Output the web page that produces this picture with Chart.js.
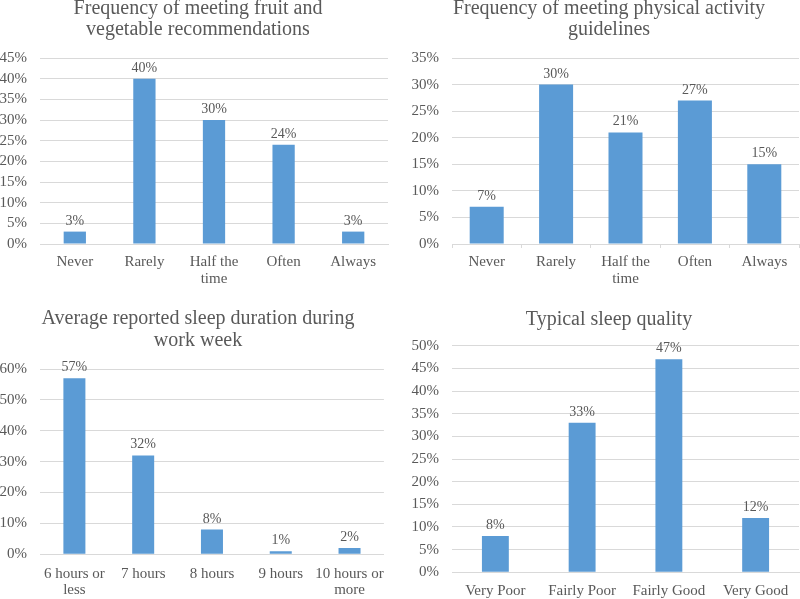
<!DOCTYPE html>
<html lang="en">
<head>
<meta charset="UTF-8">
<title>Survey results</title>
<style>
    html, body { margin: 0; padding: 0; background: #fff; }
    body { width: 800px; height: 599px; overflow: hidden; position: relative; }
    canvas { position: absolute; }
    #fruitChart { left: 0; top: 0; }
    #activityChart { left: 400px; top: 0; }
    #durationChart { left: 0; top: 300px; }
    #qualityChart { left: 400px; top: 300px; }
</style>
</head>
<body>
<canvas id="fruitChart" width="396" height="300"></canvas>
<canvas id="activityChart" width="418" height="300"></canvas>
<canvas id="durationChart" width="396" height="299"></canvas>
<canvas id="qualityChart" width="418" height="299"></canvas>

<script src="https://cdn.jsdelivr.net/npm/chart.js"></script>
<script>
    // data
    var frequencyLabels = ["Never", "Rarely", ["Half the", "time"], "Often", "Always"];
    var fruitValues = [3, 40, 30, 24, 3];
    var activityValues = [7, 30, 21, 27, 15];

    var durationLabels = [["6 hours or", "less"], "7 hours", "8 hours", "9 hours", ["10 hours or", "more"]];
    var durationValues = [57, 32, 8, 1, 2];

    var qualityLabels = ["Very Poor", "Fairly Poor", "Fairly Good", "Very Good"];
    var qualityValues = [8, 33, 47, 12];

    var fontFamily = "'Liberation Serif', 'Times New Roman', serif";
    var textColor = "#595959";
    var gridColor = "#d9d9d9";
    var barColor = "#5b9bd5";

    // percentage above each bar
    var barValueLabels = {
        id: "barValueLabels",
        afterDatasetsDraw: function (chart) {
            var ctx = chart.ctx;
            var meta = chart.getDatasetMeta(0);
            var data = chart.data.datasets[0].data;
            ctx.save();
            ctx.font = "14px " + fontFamily;
            ctx.fillStyle = textColor;
            ctx.textAlign = "center";
            ctx.textBaseline = "alphabetic";
            meta.data.forEach(function (bar, i) {
                ctx.fillText(data[i] + "%", bar.x, bar.y - 7);
            });
            ctx.restore();
        }
    };

    function createBarChart(id, c) {
        var ctx = document.getElementById(id).getContext("2d");
        return new Chart(ctx, {
            type: "bar",
            data: {
                labels: c.labels,
                datasets: [{
                    data: c.values,
                    backgroundColor: barColor,
                    borderWidth: 0,
                    barPercentage: c.barPct,
                    categoryPercentage: 1
                }]
            },
            options: {
                responsive: false,
                animation: false,
                devicePixelRatio: 1,
                layout: { padding: 0 },
                plugins: {
                    legend: { display: false },
                    tooltip: { enabled: false },
                    title: {
                        display: true,
                        text: c.title,
                        color: textColor,
                        font: { family: fontFamily, size: 20, weight: "normal", lineHeight: c.titleLine },
                        padding: { top: c.titleTop, bottom: c.titleBottom }
                    }
                },
                scales: {
                    x: {
                        grid: {
                            display: c.showTicks,
                            drawOnChartArea: false,
                            drawTicks: c.showTicks,
                            tickLength: 4,
                            color: gridColor
                        },
                        border: { display: true, color: gridColor },
                        ticks: {
                            color: textColor,
                            padding: c.labelPad,
                            maxRotation: 0,
                            autoSkip: false,
                            font: { family: fontFamily, size: 15, lineHeight: 1.1 }
                        },
                        afterFit: function (scale) { scale.height = c.axisHeight; }
                    },
                    y: {
                        min: 0,
                        max: c.max,
                        grid: { color: gridColor, drawTicks: false },
                        border: { display: false },
                        ticks: {
                            stepSize: c.step,
                            autoSkip: false,
                            padding: 13,
                            color: textColor,
                            font: { family: fontFamily, size: 15, lineHeight: 1 },
                            callback: function (v) { return v + "%"; }
                        },
                        afterFit: function (scale) { scale.width = c.axisWidth; }
                    },
                    // empty right-hand box: keeps the plot short of the edge
                    // while the title stays centred on the whole canvas
                    spacer: {
                        type: "linear",
                        position: "right",
                        grid: { display: false },
                        border: { display: false },
                        ticks: { display: false },
                        afterFit: function (scale) { scale.width = c.rightGap; }
                    }
                }
            },
            plugins: [barValueLabels]
        });
    }

    createBarChart("fruitChart", {
        title: ["Frequency of meeting fruit and", "vegetable recommendations"],
        titleLine: 1.05, titleTop: -1.5, titleBottom: 17.5,
        labels: frequencyLabels, values: fruitValues,
        max: 45, step: 5, barPct: 0.32,
        axisWidth: 40, axisHeight: 56, rightGap: 8, labelPad: 10, showTicks: false
    });

    createBarChart("activityChart", {
        title: ["Frequency of meeting physical activity", "guidelines"],
        titleLine: 1.05, titleTop: -1.5, titleBottom: 17.5,
        labels: frequencyLabels, values: activityValues,
        max: 35, step: 5, barPct: 0.49,
        axisWidth: 52, axisHeight: 56, rightGap: 19, labelPad: 6, showTicks: true
    });

    createBarChart("durationChart", {
        title: ["Average reported sleep duration during", "work week"],
        titleLine: 1.1, titleTop: 7.5, titleBottom: 17.5,
        labels: durationLabels, values: durationValues,
        max: 60, step: 10, barPct: 0.32,
        axisWidth: 40, axisHeight: 44.7, rightGap: 8, labelPad: 11.5, showTicks: false
    });

    createBarChart("qualityChart", {
        title: "Typical sleep quality",
        titleLine: 1.075, titleTop: 8.75, titleBottom: 15.5,
        labels: qualityLabels, values: qualityValues,
        max: 50, step: 5, barPct: 0.31,
        axisWidth: 52, axisHeight: 26.7, rightGap: 19, labelPad: 11, showTicks: false
    });
</script>
</body>
</html>
